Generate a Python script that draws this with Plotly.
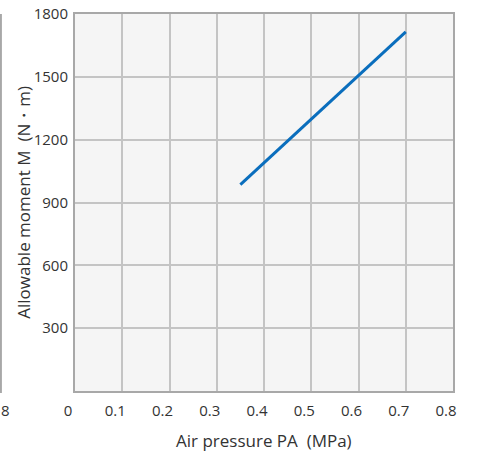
import plotly.graph_objects as go

pressure = [0.35, 0.70]
moment = [985, 1715]
x_ticks = [0, 0.1, 0.2, 0.3, 0.4, 0.5, 0.6, 0.7, 0.8]
x_labels = ["0", "0.1", "0.2", "0.3", "0.4", "0.5", "0.6", "0.7", "0.8"]
y_ticks = [300, 600, 900, 1200, 1500, 1800]
y_labels = ["300", "600", "900", "1200", "1500", "1800"]

FONT = "Open Sans"
TXT = "#333333"

fig = go.Figure()
fig.add_trace(go.Scatter(x=pressure, y=moment, mode="lines",
                         line=dict(color="#0a6ebd", width=3), showlegend=False))

fig.update_layout(
    width=483, height=453,
    margin=dict(l=75, r=30, t=14, b=62, autoexpand=False),
    paper_bgcolor="white", plot_bgcolor="#f5f5f5",
    font=dict(family=FONT, size=15, color=TXT),
    xaxis=dict(range=[0, 0.8], tickvals=x_ticks, ticktext=x_labels,
               showgrid=True, gridcolor="#c4c4c4", gridwidth=1.5,
               showline=True, linecolor="#a8a8a8", linewidth=2, mirror=True,
               zeroline=False, ticks="", ticklabelshift=-7, ticklabelstandoff=5,
               automargin=False,
               tickfont=dict(family=FONT, size=15, color=TXT)),
    yaxis=dict(range=[0, 1800], tickvals=y_ticks, ticktext=y_labels,
               showgrid=True, gridcolor="#c4c4c4", gridwidth=1.5,
               showline=True, linecolor="#a8a8a8", linewidth=2, mirror=True,
               zeroline=False, ticks="", ticklabelstandoff=2,
               automargin=False,
               tickfont=dict(family=FONT, size=15, color=TXT)),
    annotations=[
        dict(text="Air pressure PA  (MPa)", xref="paper", yref="paper",
             x=0.5, y=-0.13, xanchor="center", yanchor="middle",
             showarrow=False, font=dict(family=FONT, size=17, color=TXT)),
        dict(text="Allowable moment M  (N・m)", xref="paper", yref="paper",
             x=-0.137, y=0.5, xanchor="center", yanchor="middle", textangle=-90,
             showarrow=False, font=dict(family=FONT, size=17, color=TXT)),
        dict(text="8", xref="paper", yref="paper",
             x=-0.185, y=-0.05, xanchor="center", yanchor="middle",
             showarrow=False, font=dict(family=FONT, size=15, color=TXT)),
    ],
    shapes=[
        dict(type="line", xref="paper", yref="paper", x0=-0.196, x1=-0.196,
             y0=1.0, y1=-0.005, line=dict(color="#a8a8a8", width=2)),
    ],
)

fig.write_html("out.html")
